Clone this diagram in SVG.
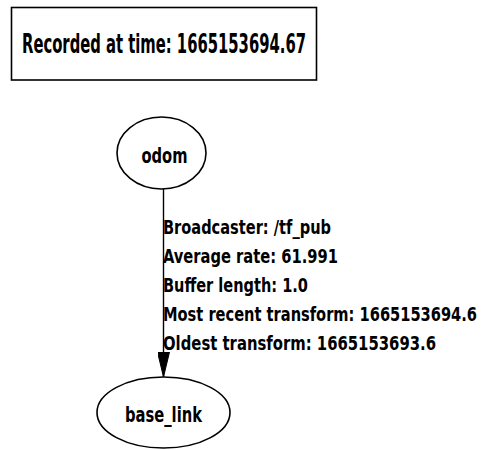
<svg xmlns="http://www.w3.org/2000/svg" width="488" height="450" viewBox="0 0 488 450">
<style>
text{font-family:"DejaVu Sans Condensed","DejaVu Sans",sans-serif;font-weight:bold;font-stretch:condensed;fill:#000}
.shape{fill:#fff;stroke:#000;stroke-width:1.6}
.edge{stroke:#000;stroke-width:1.4;fill:none}
.lbl{font-size:20px}
</style>
<defs>
<marker id="arr" markerWidth="26" markerHeight="12" refX="25" refY="6" orient="auto" markerUnits="userSpaceOnUse" viewBox="0 0 26 12">
<path d="M0,0 L25,6 L0,12 Z" fill="#000" stroke="#000" stroke-width="1"/>
</marker>
</defs>
<rect width="488" height="450" fill="#fff"/>
<g id="title">
<rect class="shape" x="11.5" y="7.5" width="305" height="72.5" stroke-width="2"/>
<text x="22" y="53" font-size="26" textLength="284" lengthAdjust="spacingAndGlyphs">Recorded at time: 1665153694.67</text>
</g>
<g id="connectors">
<line class="edge" x1="163.5" y1="189" x2="163.5" y2="377" marker-end="url(#arr)"/>
<text class="lbl" x="163" y="234" textLength="168" lengthAdjust="spacingAndGlyphs">Broadcaster: /tf_pub</text>
<text class="lbl" x="163" y="263" textLength="175" lengthAdjust="spacingAndGlyphs">Average rate: 61.991</text>
<text class="lbl" x="163" y="292" textLength="145" lengthAdjust="spacingAndGlyphs">Buffer length: 1.0</text>
<text class="lbl" x="163" y="321" textLength="314" lengthAdjust="spacingAndGlyphs">Most recent transform: 1665153694.6</text>
<text class="lbl" x="163" y="350" textLength="273" lengthAdjust="spacingAndGlyphs">Oldest transform: 1665153693.6</text>
</g>
<g id="odom">
<ellipse class="shape" cx="161.5" cy="153" rx="44.5" ry="36"/>
<text x="141.5" y="163" font-size="22" textLength="46" lengthAdjust="spacingAndGlyphs">odom</text>
</g>
<g id="base_link">
<ellipse class="shape" cx="163.5" cy="412.5" rx="66.5" ry="35.5"/>
<text x="125" y="422" font-size="22" textLength="77" lengthAdjust="spacingAndGlyphs">base_link</text>
</g>
</svg>
